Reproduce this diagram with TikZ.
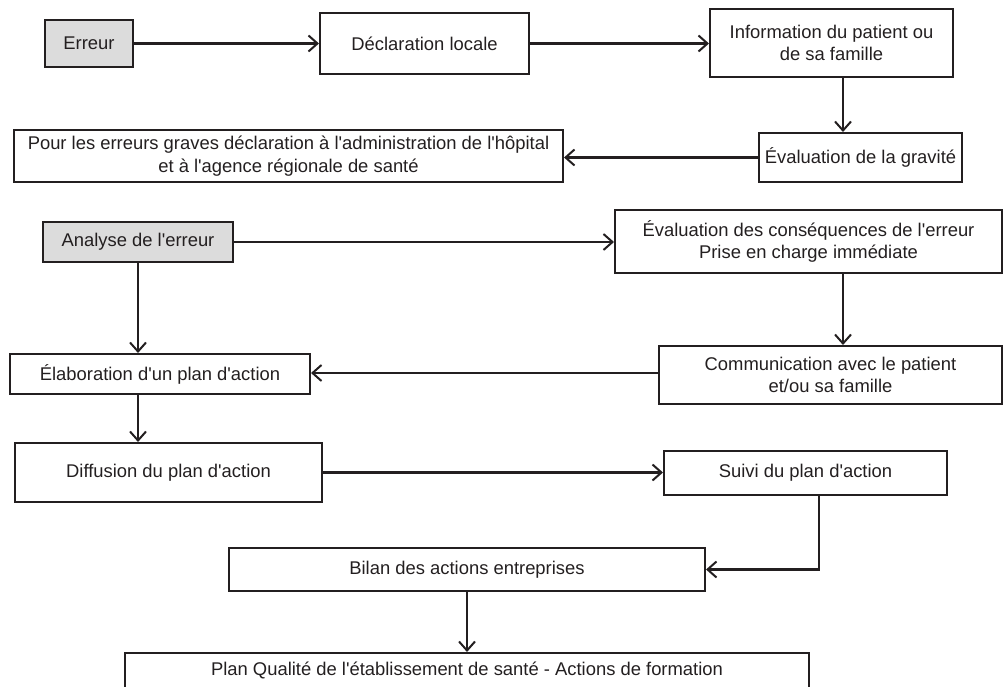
\documentclass[tikz,border=0pt]{standalone}
\usepackage{fontspec}
\setmainfont{Liberation Sans}
\usetikzlibrary{arrows.meta}
\definecolor{ink}{HTML}{231F20}
\definecolor{boxgray}{HTML}{DCDCDC}
\newcommand{\aq}{\textquotesingle}
\tikzset{
  box/.style={draw=ink, line width=2pt, rectangle, inner sep=0pt, align=center,
    font=\fontsize{18.4}{22.5}\selectfont, text=ink},
  graybox/.style={box, fill=boxgray},
  flow/.style={draw=ink, line width=2.2pt, -{Straight Barb[length=9pt,width=16pt,line width=2pt]}},
}
\begin{document}
\begin{tikzpicture}[x=1pt,y=-1pt]
\useasboundingbox (0,0) rectangle (1005,687);
\node[graybox, minimum width=88pt, minimum height=47pt] (err) at (89,43.5) {Erreur};
\node[box, minimum width=209pt, minimum height=61pt] (decl) at (424.5,43.5) {Déclaration locale};
\node[box, minimum width=243pt, minimum height=68pt] (info) at (831.5,43) {Information du patient ou\\de sa famille};
\node[box, minimum width=203pt, minimum height=49pt] (grav) at (860.5,157.5) {Évaluation de la gravité};
\node[box, minimum width=549pt, minimum height=52pt] (pour) at (288.5,156) {Pour les erreurs graves déclaration à l\aq administration de l\aq hôpital\\et à l\aq agence régionale de santé};
\node[graybox, minimum width=190pt, minimum height=40pt] (anal) at (138,242) {Analyse de l\aq erreur};
\node[box, minimum width=387pt, minimum height=63pt] (evalc) at (808.5,241.5) {Évaluation des conséquences de l\aq erreur\\Prise en charge immédiate};
\node[box, minimum width=343pt, minimum height=58pt] (comm) at (830.5,375) {Communication avec le patient\\et/ou sa famille};
\node[box, minimum width=300pt, minimum height=40pt] (elab) at (160,374) {Élaboration d\aq un plan d\aq action};
\node[box, minimum width=307pt, minimum height=59pt] (diff) at (168.5,472.5) {Diffusion du plan d\aq action};
\node[box, minimum width=283pt, minimum height=44pt] (suivi) at (805.5,473) {Suivi du plan d\aq action};
\node[box, minimum width=476pt, minimum height=43pt] (bilan) at (467,569.5) {Bilan des actions entreprises};
\node[box, minimum width=684pt, minimum height=60pt, anchor=north] (plan) at (467,652) {};
\node[font=\fontsize{18.4}{22.5}\selectfont, text=ink, inner sep=0pt] (planlbl) at (467,670) {Plan Qualité de l\aq établissement de santé - Actions de formation};

\draw[flow] (err.east) -- (decl.west);
\draw[flow] (decl.east) -- (decl.east -| info.west);
\draw[flow] (info.south -| 843,0) -- (grav.north -| 843,0);
\draw[flow] (grav.west) -- (grav.west -| pour.east);
\draw[flow] (anal.east) -- (anal.east -| evalc.west);
\draw[flow] (evalc.south -| 843,0) -- (comm.north -| 843,0);
\draw[flow] (comm.west |- 0,373) -- (elab.east |- 0,373);
\draw[flow] (anal.south) -- (elab.north -| anal.south);
\draw[flow] (elab.south -| anal.south) -- (diff.north -| anal.south);
\draw[flow] (diff.east) -- (diff.east -| suivi.west);
\draw[flow] (suivi.south -| 819,0) |- (bilan.east);
\draw[flow] (bilan.south) -- (plan.north);
\end{tikzpicture}
\end{document}
